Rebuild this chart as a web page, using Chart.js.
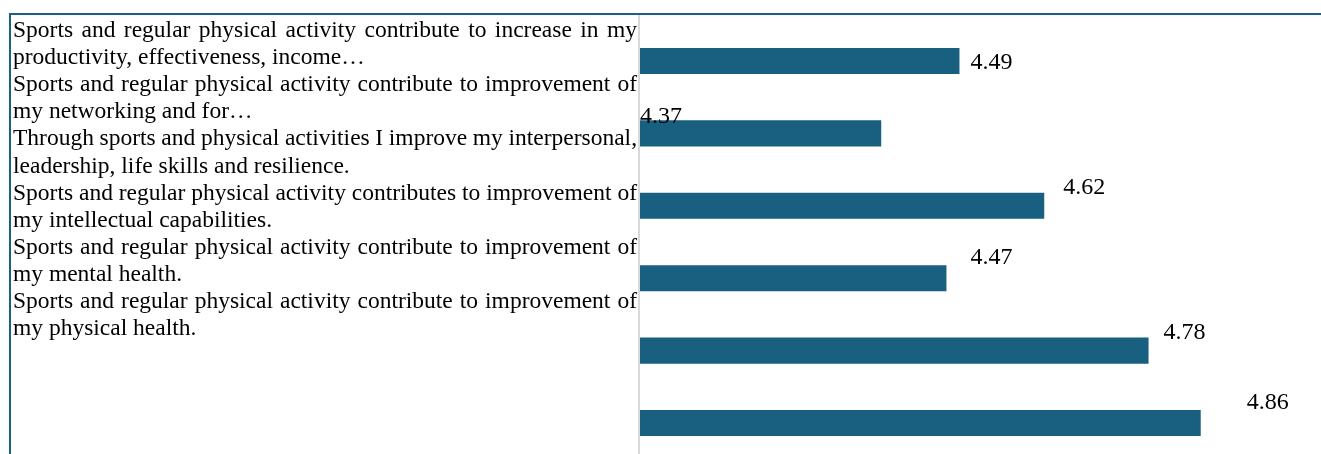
<!DOCTYPE html>
<html>
<head>
<meta charset="utf-8">
<script src="https://cdn.jsdelivr.net/npm/chart.js@4/dist/chart.umd.min.js"></script>
<style>
  html, body { margin: 0; padding: 0; background: #ffffff; overflow: hidden; }
  #wrap { position: relative; width: 1321px; height: 454px; overflow: hidden; }
  #frame { position: absolute; left: 9px; top: 13px; right: -5px; bottom: -5px;
           border-top: 2px solid #1d5f80; border-left: 2px solid #1d5f80; z-index: 2; pointer-events: none; }
  canvas { position: absolute; left: 0; top: 0; }
</style>
</head>
<body>
<div id="wrap">
  <div id="frame"></div>
  <canvas id="c" width="1321" height="460"></canvas>
</div>
<script>
// ---- data ----
const categories = [
  ["Sports and regular physical activity contribute to increase in my", "productivity, effectiveness, income…"],
  ["Sports and regular physical activity contribute to improvement of", "my networking and for…"],
  ["Through sports and physical activities I improve my interpersonal,", "leadership, life skills and resilience."],
  ["Sports and regular physical activity contributes to improvement of", "my intellectual capabilities."],
  ["Sports and regular physical activity contribute to improvement of", "my mental health."],
  ["Sports and regular physical activity contribute to improvement of", "my physical health."]
];
const meanScores = [4.49, 4.37, 4.62, 4.47, 4.78, 4.86];
const valueLabels = ["4.49", "4.37", "4.62", "4.47", "4.78", "4.86"];

// ---- styling (label placement offsets, as in the source picture) ----
const labelPlacement = [
  {anchor: 'end', dx: 11, dy: 0},
  {anchor: 'start', dx: 0, dy: -18},
  {anchor: 'end', dx: 19, dy: -20},
  {anchor: 'end', dx: 24, dy: -22},
  {anchor: 'end', dx: 15, dy: -20},
  {anchor: 'end', dx: 46, dy: -22}
];

const serif = '"Liberation Serif", "Times New Roman", serif';

const categoryTextPlugin = {
  id: 'categoryText',
  afterDraw(chart) {
    const ctx = chart.ctx;
    const left = 13, right = 637, firstBaseline = 37, lineStep = 27.1;
    ctx.save();
    ctx.font = '23.5px ' + serif;
    ctx.fillStyle = '#000000';
    ctx.textBaseline = 'alphabetic';
    ctx.textAlign = 'left';
    let line = 0;
    chart.data.labels.forEach(lbl => {
      const lines = Array.isArray(lbl) ? lbl : [lbl];
      lines.forEach((t, i) => {
        const y = firstBaseline + line * lineStep;
        if (i < lines.length - 1) {
          const words = t.split(' ');
          const widths = words.map(w => ctx.measureText(w).width);
          const total = widths.reduce((a, b) => a + b, 0);
          const gap = (right - left - total) / Math.max(1, words.length - 1);
          let x = left;
          words.forEach((w, k) => { ctx.fillText(w, x, y); x += widths[k] + gap; });
        } else {
          ctx.fillText(t, left, y);
        }
        line++;
      });
    });
    ctx.restore();
  }
};

const axisLinePlugin = {
  id: 'axisLine',
  beforeDatasetsDraw(chart) {
    const ctx = chart.ctx;
    const x = chart.chartArea.left - 1;
    ctx.save();
    ctx.strokeStyle = '#d9d9d9';
    ctx.lineWidth = 2;
    ctx.beginPath();
    ctx.moveTo(x, 15);
    ctx.lineTo(x, chart.height);
    ctx.stroke();
    ctx.restore();
  }
};

const valueLabelPlugin = {
  id: 'valueLabels',
  afterDatasetsDraw(chart) {
    const ctx = chart.ctx;
    const meta = chart.getDatasetMeta(0);
    const xScale = chart.scales.x;
    ctx.save();
    ctx.font = '24px ' + serif;
    ctx.fillStyle = '#000000';
    ctx.textAlign = 'left';
    ctx.textBaseline = 'alphabetic';
    meta.data.forEach((bar, i) => {
      const p = labelPlacement[i];
      const x0 = p.anchor === 'start' ? xScale.getPixelForValue(xScale.min) : xScale.getPixelForValue(meanScores[i]);
      ctx.fillText(valueLabels[i], x0 + p.dx, bar.y + p.dy + 8);
    });
    ctx.restore();
  }
};

new Chart(document.getElementById('c'), {
  type: 'bar',
  data: {
    labels: categories,
    datasets: [{
      data: meanScores,
      backgroundColor: '#185f80',
      borderWidth: 0,
      barPercentage: 0.36,
      categoryPercentage: 1.0
    }]
  },
  options: {
    indexAxis: 'y',
    responsive: false,
    animation: false,
    devicePixelRatio: 1,
    layout: { padding: { left: 0, right: 29, top: 24.8, bottom: 0.8 } },
    plugins: { legend: { display: false }, tooltip: { enabled: false } },
    scales: {
      x: { display: false, min: 4, max: 5 },
      y: {
        grid: { display: false },
        border: { display: false },
        ticks: { display: false },
        afterFit(s) { s.width = 640; }
      }
    }
  },
  plugins: [categoryTextPlugin, axisLinePlugin, valueLabelPlugin]
});
</script>
</body>
</html>
